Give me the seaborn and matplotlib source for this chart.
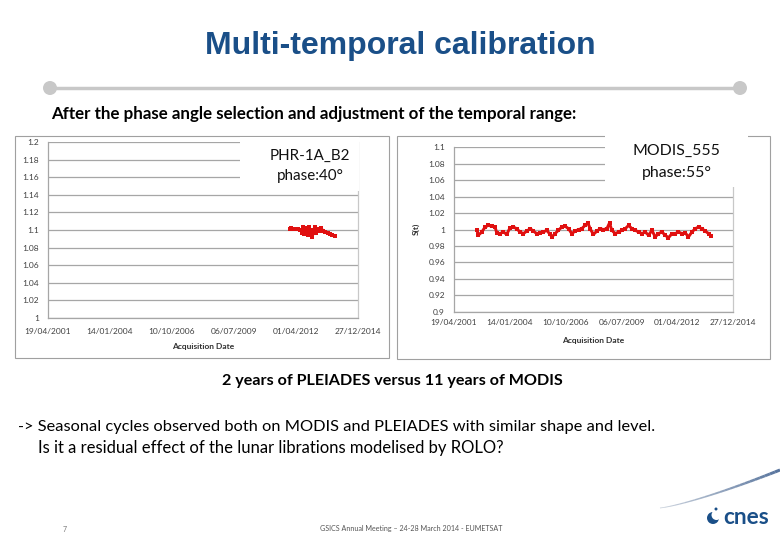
import numpy as np
import pandas as pd
import matplotlib
matplotlib.use("Agg")
import matplotlib.pyplot as plt
from matplotlib.patches import Rectangle, Ellipse
from matplotlib.lines import Line2D
from matplotlib.collections import LineCollection
import seaborn as sns

# ---------------- data ----------------
x_tick_labels = ["19/04/2001", "14/01/2004", "10/10/2006", "06/07/2009", "01/04/2012", "27/12/2014"]
phr_y_ticks = [1.0, 1.02, 1.04, 1.06, 1.08, 1.1, 1.12, 1.14, 1.16, 1.18, 1.2]
modis_y_ticks = [0.9, 0.92, 0.94, 0.96, 0.98, 1.0, 1.02, 1.04, 1.06, 1.08, 1.1]

# PHR-1A_B2, phase 40 deg (acquisition date in decimal years)
phr_years = [2011.99, 2012.05, 2012.15, 2012.25, 2012.35, 2012.45, 2012.52, 2012.57,
             2012.62, 2012.67, 2012.72, 2012.77, 2012.82, 2012.87, 2012.92, 2012.97,
             2013.02, 2013.07, 2013.13, 2013.20, 2013.27, 2013.35, 2013.45, 2013.55,
             2013.65, 2013.75, 2013.85, 2013.97]
phr_values = [1.101, 1.102, 1.101, 1.101, 1.101, 1.100, 1.097, 1.103,
              1.095, 1.102, 1.098, 1.094, 1.103, 1.096, 1.100, 1.092,
              1.099, 1.103, 1.097, 1.101, 1.099, 1.102, 1.099, 1.098,
              1.097, 1.096, 1.094, 1.093]

# MODIS_555, phase 55 deg
modis_years = [2002.41, 2002.49, 2002.66, 2002.82, 2002.98, 2003.15, 2003.31, 2003.39,
               2003.55, 2003.72, 2003.88, 2004.04, 2004.21, 2004.37, 2004.53, 2004.70,
               2004.86, 2005.03, 2005.19, 2005.35, 2005.52, 2005.68, 2005.84, 2006.01,
               2006.09, 2006.25, 2006.41, 2006.58, 2006.74, 2006.91, 2007.07, 2007.23,
               2007.40, 2007.56, 2007.72, 2007.86, 2007.97, 2008.13, 2008.30, 2008.46,
               2008.62, 2008.79, 2008.92, 2009.03, 2009.20, 2009.36, 2009.53, 2009.69,
               2009.85, 2010.02, 2010.18, 2010.34, 2010.51, 2010.67, 2010.83, 2011.00,
               2011.16, 2011.32, 2011.49, 2011.65, 2011.81, 2011.98, 2012.14, 2012.30,
               2012.47, 2012.63, 2012.79, 2012.96, 2013.12, 2013.28, 2013.45, 2013.61,
               2013.78, 2013.89]
modis_values = [1.000, 0.993, 0.997, 1.003, 1.005, 1.004, 1.003, 0.996,
                0.995, 0.997, 0.994, 1.002, 1.003, 1.001, 0.997, 0.995,
                0.998, 1.001, 0.998, 0.995, 0.996, 0.997, 0.999, 0.994,
                0.991, 0.995, 0.999, 1.003, 1.004, 1.001, 0.995, 0.998,
                1.000, 1.001, 1.005, 1.008, 1.001, 0.994, 0.998, 1.001,
                1.000, 1.001, 1.008, 0.999, 0.995, 0.997, 0.999, 1.001,
                1.005, 1.001, 0.999, 0.997, 0.995, 0.997, 0.993, 0.999,
                0.991, 0.995, 0.997, 0.993, 0.990, 0.995, 0.995, 0.997,
                0.995, 0.996, 0.991, 0.997, 1.001, 1.003, 1.001, 0.998,
                0.995, 0.992]


def dec_to_date(y):
    yr = int(y)
    return pd.Timestamp(yr, 1, 1) + pd.Timedelta(days=(y - yr) * 365.25)


phr_df = pd.DataFrame({"date": [dec_to_date(v) for v in phr_years], "value": phr_values})
modis_df = pd.DataFrame({"date": [dec_to_date(v) for v in modis_years], "value": modis_values})
tick_dates = pd.to_datetime(x_tick_labels, dayfirst=True)

# ---------------- style ----------------
sns.set_style("white")
plt.rcParams["font.family"] = ["Lato", "DejaVu Sans"]

W, H = 780, 540
fig = plt.figure(figsize=(W / 100, H / 100), dpi=100)
fig.patch.set_facecolor("white")
renderer = fig.canvas.get_renderer()

RED = "#E01010"
GRID = "#A6A6A6"
FRAME = "#A0A0A0"
TICKTXT = "#404040"
BLUE = "#1A4F88"


def fx(x):
    return x / W


def fy(y):
    return 1 - y / H


def add_axes_px(x0, y0, x1, y1):
    return fig.add_axes([fx(x0), fy(y1), (x1 - x0) / W, (y1 - y0) / H])


def rect_px(x0, y0, x1, y1, **kw):
    r = Rectangle((fx(x0), fy(y1)), (x1 - x0) / W, (y1 - y0) / H,
                  transform=fig.transFigure, **kw)
    fig.patches.append(r)
    return r


def fit_text(x, y, s, width, ha="left", family=None, **kw):
    fam = family if family is not None else ["Lato", "DejaVu Sans"]
    t = fig.text(fx(x), fy(y), s, ha=ha, va="center", fontsize=10, family=fam, **kw)
    w = t.get_window_extent(renderer).width
    t.set_fontsize(10 * width / w)
    return t


def style_axes(ax, df, yticks, xpad):
    sns.lineplot(data=df, x="date", y="value", ax=ax, color=RED, linewidth=2.1,
                 marker="s", markersize=3.0, markeredgewidth=0, estimator=None, sort=False)
    ax.set_facecolor("none")
    ax.set_xlim(tick_dates[0], tick_dates[-1])
    ax.set_ylim(yticks[0], yticks[-1])
    ax.set_xticks(tick_dates)
    ax.set_xticklabels(x_tick_labels)
    ax.set_yticks(yticks)
    ax.set_yticklabels([f"{v:g}" for v in yticks])
    ax.yaxis.grid(True, color=GRID, linewidth=0.9)
    ax.xaxis.grid(False)
    ax.spines["top"].set_visible(False)
    for s in ["left", "bottom"]:
        ax.spines[s].set_color(GRID)
        ax.spines[s].set_linewidth(0.9)
    ax.spines["right"].set_color("#C8C8C8")
    ax.spines["right"].set_linewidth(0.9)
    ax.set_xlabel("")
    ax.set_ylabel("")
    ax.tick_params(axis="y", which="major", direction="out", length=3, width=0.8,
                   color=GRID, labelsize=6, labelcolor=TICKTXT, pad=3.5)
    ax.tick_params(axis="x", which="major", direction="out", length=3, width=0.8,
                   color=GRID, labelsize=6, labelcolor=TICKTXT, pad=xpad)


# chart frames
rect_px(15, 136, 389, 358, fill=False, edgecolor=FRAME, linewidth=0.8, zorder=-1)
rect_px(397, 136, 770, 359, fill=False, edgecolor=FRAME, linewidth=0.8, zorder=-1)

# left chart: PHR
ax1 = add_axes_px(47.7, 142.3, 358, 317.7)
style_axes(ax1, phr_df, phr_y_ticks, xpad=4.5)
ax1.text(0.5, -(347 - 317.7) / 175.4, "Acquisition Date", transform=ax1.transAxes,
         ha="center", va="center", fontsize=6, weight="bold", color="#303030")

# right chart: MODIS
ax2 = add_axes_px(454, 147.3, 733.3, 311.7)
style_axes(ax2, modis_df, modis_y_ticks, xpad=2.5)
ax2.text(0.5, -(340.7 - 311.7) / 164.4, "Acquisition Date", transform=ax2.transAxes,
         ha="center", va="center", fontsize=6, weight="bold", color="#303030")
ax2.text((416 - 454) / 279.3, (311.7 - 229) / 164.4, "S(t)", transform=ax2.transAxes,
         ha="center", va="center", rotation=90, fontsize=6, weight="bold", color="#303030")

# white annotation boxes
rect_px(240, 137, 359, 191, facecolor="white", edgecolor="none", zorder=5)
rect_px(605, 127, 748, 187, facecolor="white", edgecolor="none", zorder=5)
t = fit_text(310, 156, "PHR-1A_B2", 80, ha="center", color="#111111", zorder=6)
fs = t.get_fontsize()
fig.text(fx(310), fy(176), "phase:40°", ha="center", va="center", fontsize=fs,
         color="#111111", zorder=6)
t = fit_text(676.5, 151, "MODIS_555", 87, ha="center", color="#111111", zorder=6)
fs = t.get_fontsize()
fig.text(fx(676.5), fy(172.5), "phase:55°", ha="center", va="center", fontsize=fs,
         color="#111111", zorder=6)

# title and rule
fit_text(400, 46, "Multi-temporal calibration", 390, ha="center",
         family=["Liberation Sans", "DejaVu Sans"], weight="bold", color=BLUE)
fig.lines.append(Line2D([fx(50), fx(740)], [fy(88), fy(88)], transform=fig.transFigure,
                        color="#C8C8C8", linewidth=2.5))
for cx in (50, 740):
    fig.patches.append(Ellipse((fx(cx), fy(88)), 14 / W, 14 / H, transform=fig.transFigure,
                               facecolor="#C8C8C8", edgecolor="none"))

# slide texts
fit_text(51, 114, "After the phase angle selection and adjustment of the temporal range:",
         526, weight="bold", color="black")
fit_text(392.5, 381, "2 years of PLEIADES versus 11 years of MODIS", 341,
         ha="center", weight="bold", color="black")
fit_text(18, 427, "-> Seasonal cycles observed both on MODIS and PLEIADES with similar shape and level.",
         633, color="black")
fit_text(38, 448, "Is it a residual effect of the lunar librations modelised by ROLO?",
         465, color="black")
fig.text(fx(65), fy(530), "7", ha="center", va="center", fontsize=5, color="#777777")
fit_text(411, 528, "GSICS Annual Meeting \u2013 24-28 March 2014 - EUMETSAT", 182,
         ha="center", color="#555555")

# cnes logo and swoosh (decoration)
sx = np.linspace(660, 780, 25)
sy = 508 - 38 * ((sx - 660) / 120) ** 1.25
pts = np.column_stack([fx(sx), fy(sy)])
segs = np.stack([pts[:-1], pts[1:]], axis=1)
frac = np.linspace(0, 1, len(segs))
cols = [(0.80 - 0.45 * f, 0.83 - 0.37 * f, 0.87 - 0.25 * f) for f in frac]
fig.add_artist(LineCollection(segs, colors=cols, linewidths=0.6 + 1.6 * frac,
                              transform=fig.transFigure))
fit_text(746, 517, "cnes", 46, ha="center", color=BLUE, weight="bold")
fig.patches.append(Ellipse((fx(713), fy(518)), 12 / W, 12 / H, transform=fig.transFigure,
                           facecolor=BLUE, edgecolor="none"))
fig.patches.append(Ellipse((fx(716.5), fy(515)), 10 / W, 10 / H, transform=fig.transFigure,
                           facecolor="white", edgecolor="none"))
fig.patches.append(Ellipse((fx(716), fy(509)), 3 / W, 3 / H, transform=fig.transFigure,
                           facecolor=BLUE, edgecolor="none"))

fig.savefig("out.png", dpi=100, facecolor="white")
